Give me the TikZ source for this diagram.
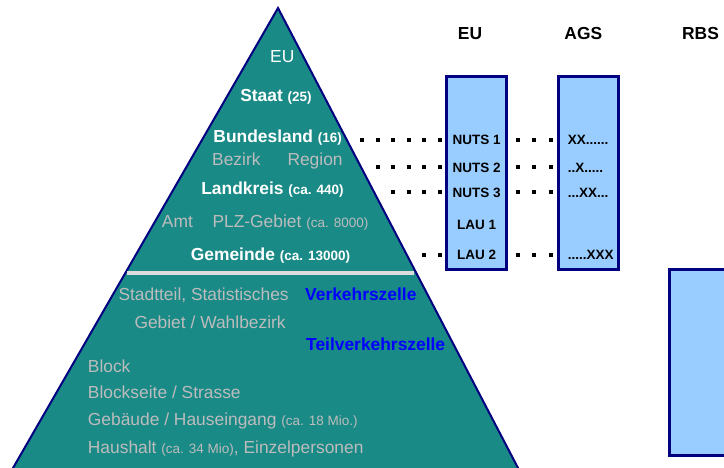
\documentclass[tikz,border=0pt]{standalone}
\usepackage{fontspec}
\setmainfont{Liberation Sans}
\definecolor{tealfill}{RGB}{26,138,135}
\definecolor{navyline}{RGB}{0,0,128}
\definecolor{boxblue}{RGB}{153,204,255}
\definecolor{lgray}{RGB}{188,188,188}
\definecolor{vblue}{RGB}{0,0,255}
\definecolor{sepgray}{RGB}{220,220,220}
\newcommand\smf{\fontsize{13.5}{16}\selectfont}
\newcommand\bgf{\fontsize{17.4}{20}\selectfont}
\begin{document}
\begin{tikzpicture}[x=1pt,y=-1pt,
  txt/.style={font=\bgf, inner sep=0pt, anchor=base west},
  ctxt/.style={font=\bgf, inner sep=0pt, anchor=base},
  wbold/.style={ctxt, text=white, font=\bgf\bfseries},
  gtxt/.style={txt, text=lgray},
  btxt/.style={txt, text=vblue, font=\bgf\bfseries},
  boxtxt/.style={inner sep=0pt, anchor=base, font=\smf\bfseries},
  agstxt/.style={inner sep=0pt, anchor=base west, font=\smf\bfseries},
  head/.style={ctxt, font=\bgf\bfseries},
  codebox/.style={draw=navyline, line width=3pt, fill=boxblue, inner sep=0pt},
  dotline/.style={line width=4pt, dash pattern=on 4pt off 11.6pt},
  dotlinetwo/.style={line width=4pt, dash pattern=on 4pt off 12.5pt, shorten <=8pt},
  sepline/.style={sepgray, line width=3.5pt}
]
\useasboundingbox (0,0) rectangle (724,468);
\clip (0,0) rectangle (724,468);
\fill[white] (0,0) rectangle (724,468);

% pyramid
\draw[navyline, line width=2pt, fill=tealfill, line join=miter] (278,8) -- (524.3,480) -- (6.1,480) -- cycle;
\draw[sepline] (127,273) -- (414,273);

% pyramid texts
\node[ctxt, text=white] (teu) at (282.3,63) {EU};
\node[wbold] (staat) at (276,101.5) {Staat {\smf (25)}};
\node[wbold] (bland) at (277.7,143) {Bundesland {\smf (16)}};
\node[gtxt] (bezirk) at (212,166) {Bezirk};
\node[gtxt] (region) at (287.3,166) {Region};
\node[wbold] (lkreis) at (272.5,195) {Landkreis {\smf (ca. 440)}};
\node[gtxt] (amt) at (161.7,228) {Amt};
\node[gtxt] (plz) at (212.3,228) {PLZ-Gebiet {\smf (ca. 8000)}};
\node[wbold] (gem) at (270.5,261) {Gemeinde {\smf (ca. 13000)}};

\node[gtxt] (stadtteil) at (118.3,300.5) {Stadtteil, Statistisches};
\node[btxt] (vz) at (305,300.5) {Verkehrszelle};
\node[gtxt] (gebiet) at (134.3,329) {Gebiet / Wahlbezirk};
\node[btxt] (tvz) at (306,350.7) {Teilverkehrszelle};
\node[gtxt] (block) at (87.7,372.7) {Block};
\node[gtxt] (bseite) at (87.7,398.3) {Blockseite / Strasse};
\node[gtxt] (gebaeude) at (87.7,425.7) {Gebäude / Hauseingang {\smf (ca. 18 Mio.)}};
\node[gtxt] (haushalt) at (87.7,453) {Haushalt {\smf (ca. 34 Mio)}, Einzelpersonen};

% headers
\node[head] (heu) at (470,40) {EU};
\node[head] (hags) at (583.3,40) {AGS};
\node[head] (hrbs) at (700.5,40) {RBS};

% boxes
\node[codebox, minimum width=60pt, minimum height=193pt] (eu) at (476,173.5) {};
\node[codebox, minimum width=60pt, minimum height=193pt] (ags) at (588,173.5) {};
\node[codebox, minimum width=91pt, minimum height=185pt] (rbs) at (714.5,362.5) {};

% box labels
\node[boxtxt] (n1) at (476.7,145) {NUTS 1};
\node[boxtxt] (n2) at (476.7,173) {NUTS 2};
\node[boxtxt] (n3) at (476.7,198) {NUTS 3};
\node[boxtxt] (l1) at (476.7,230) {LAU 1};
\node[boxtxt] (l2) at (476.7,260) {LAU 2};

\node[agstxt] (a1) at (567.7,145) {XX......};
\node[agstxt] (a2) at (567.7,173) {..X.....};
\node[agstxt] (a3) at (567.7,198) {...XX...};
\node[agstxt] (a4) at (567.7,260) {.....XXX};

% dotted connectors
\coordinate (r1) at (360,140);
\coordinate (r2) at (375.6,167);
\coordinate (r3) at (391.2,192);
\coordinate (r4) at (422.4,255);
\draw[dotline] (r1) -- (r1 -| eu.west);
\draw[dotline] (r2) -- (r2 -| eu.west);
\draw[dotline] (r3) -- (r3 -| eu.west);
\draw[dotline] (r4) -- (r4 -| eu.west);
\draw[dotlinetwo] (eu.east |- r1) -- (ags.west |- r1);
\draw[dotlinetwo] (eu.east |- r2) -- (ags.west |- r2);
\draw[dotlinetwo] (eu.east |- r3) -- (ags.west |- r3);
\draw[dotlinetwo] (eu.east |- r4) -- (ags.west |- r4);
\end{tikzpicture}
\end{document}
